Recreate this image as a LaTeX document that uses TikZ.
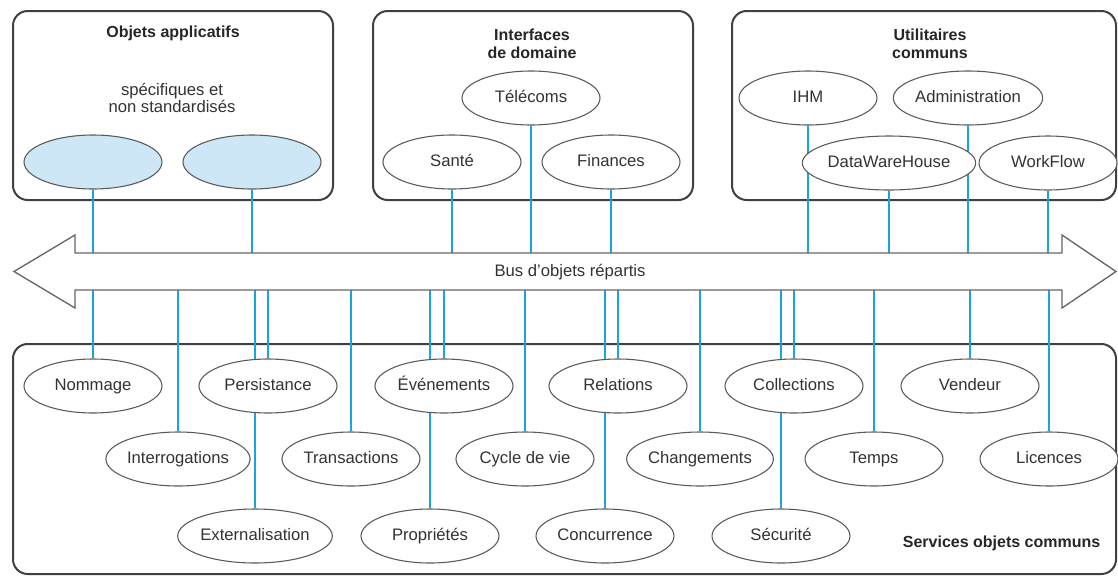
\documentclass[tikz,border=0pt]{standalone}
\usepackage{fontspec}
\setmainfont{Liberation Sans}
\usetikzlibrary{shapes.geometric}
\definecolor{cyanline}{HTML}{1BA3DB}
\definecolor{lblue}{HTML}{CDE7F6}
\definecolor{txt}{HTML}{333333}
\pgfdeclarelayer{background}
\pgfsetlayers{background,main}
\begin{document}
\begin{tikzpicture}[x=0.75pt,y=-0.75pt,
 oval/.style={ellipse, draw=black!65, line width=0.8pt, fill=white, minimum width=103.5pt, minimum height=40.5pt, inner sep=0pt, font=\fontsize{12.5}{14}\selectfont, text=txt, text height=9pt, text depth=2.6pt},
 group/.style={draw=black!75, line width=1.5pt, rounded corners=11pt},
 link/.style={draw=cyanline, line width=2.1pt},
 title/.style={font=\fontsize{12}{13.5}\selectfont\bfseries, text=black!85, align=center},
 plain/.style={font=\fontsize{12.5}{12.5}\selectfont, text=txt, align=center},
 busshape/.style={draw=black!60, line width=1pt, fill=white},
]
\useasboundingbox (0,0) rectangle (1118,579);

% bus
\draw[busshape] (14,271.5) -- (75,235) -- (75,253) -- (1062,253) -- (1062,235) -- (1116,271.5)
  -- (1062,308) -- (1062,290) -- (75,290) -- (75,308) -- cycle;
\coordinate (bt) at (0,253);
\coordinate (bb) at (0,290);
\node[plain] (bus) at (570,272) {Bus d’objets répartis};

% top groups
\node[title] (t1) at (173,33) {Objets applicatifs};
\node[plain] (t1b) at (172,98) {spécifiques et\\non standardisés};
\node[title] (t2) at (532,44) {Interfaces\\de domaine};
\node[title] (t3) at (930,44) {Utilitaires\\communs};

\node[oval, fill=lblue] (a1) at (93,162) {};
\node[oval, fill=lblue] (a2) at (252,162) {};
\node[oval] (tel) at (531,98) {Télécoms};
\node[oval] (san) at (452,162) {Santé};
\node[oval] (fin) at (611,162) {Finances};
\node[oval] (ihm) at (808,98) {IHM};
\node[oval] (adm) at (968,98) {Administration};
\node[oval] (dwh) at (889,163) {DataWareHouse};
\node[oval] (wf) at (1048,163) {WorkFlow};

% bottom services
\node[oval] (nom) at (93,386) {Nommage};
\node[oval] (per) at (268,386) {Persistance};
\node[oval] (eve) at (444,386) {Événements};
\node[oval] (rel) at (618,386) {Relations};
\node[oval] (col) at (794,386) {Collections};
\node[oval] (ven) at (970,386) {Vendeur};
\node[oval] (int) at (178,459) {Interrogations};
\node[oval] (tra) at (351,459) {Transactions};
\node[oval] (cyc) at (525,459) {Cycle de vie};
\node[oval] (cha) at (700,459) {Changements};
\node[oval] (tem) at (874,459) {Temps};
\node[oval] (lic) at (1049,459) {Licences};
\node[oval] (ext) at (255,536) {Externalisation};
\node[oval] (pro) at (430,536) {Propriétés};
\node[oval] (con) at (605,536) {Concurrence};
\node[oval] (sec) at (781,536) {Sécurité};
\node[title, anchor=east] (svc) at (1105,543) {Services objets communs};

\begin{pgfonlayer}{background}
\draw[group] (13,11) rectangle (333,200);
\draw[group] (373,11) rectangle (693,200);
\draw[group] (732,11) rectangle (1116,200);
\draw[group] (13,344) rectangle (1116,574);
\foreach \n in {a1,a2,tel,san,fin,ihm,adm,dwh,wf}
  \draw[link] (\n.south) -- (\n.south |- bt);
\foreach \n in {nom,per,eve,rel,col,ven,int,tra,cyc,cha,tem,lic,ext,pro,con,sec}
  \draw[link] (\n.north |- bb) -- (\n.north);
\end{pgfonlayer}
\end{tikzpicture}
\end{document}
